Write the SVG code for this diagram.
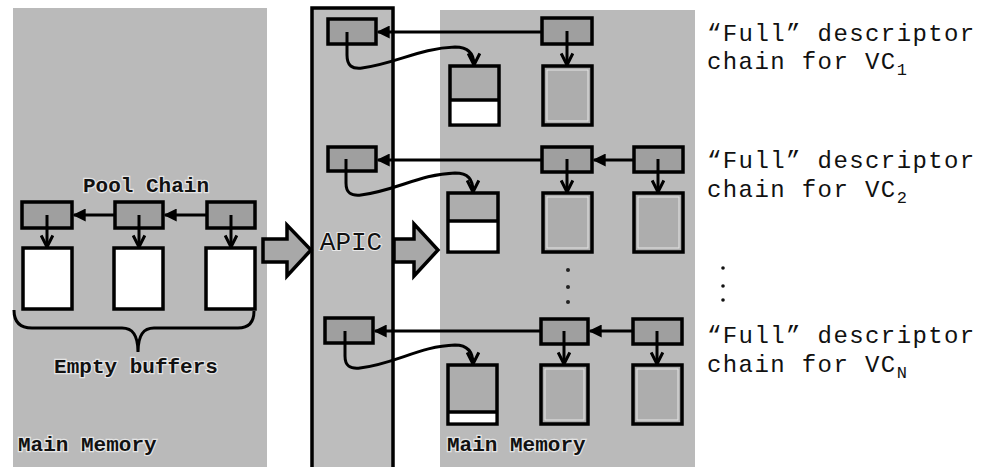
<svg xmlns="http://www.w3.org/2000/svg" width="982" height="467" viewBox="0 0 982 467">
<defs>
<style>
.panel{fill:#bababa;}
.desc{fill:#9f9f9f;stroke:#000;stroke-width:3.5;}
.buf{fill:#fff;stroke:#000;stroke-width:3.5;}
.full{fill:#adadad;stroke:#000;stroke-width:3.5;}
.inner{fill:none;stroke:#e6e6e6;stroke-width:1;}
.ln{fill:none;stroke:#000;stroke-width:3;}
.big{fill:#a8a8a8;stroke:#000;stroke-width:3.5;stroke-linejoin:miter;}
.lbl{font-family:"Liberation Mono","Courier New",monospace;font-weight:bold;font-size:21px;fill:#111;stroke:#e4e4e4;stroke-width:2.5;paint-order:stroke;}
.cap{font-family:"Liberation Mono","Courier New",monospace;font-size:24px;letter-spacing:1.4px;fill:#111;}
.sub{font-size:17px;}
</style>
<marker id="tri" viewBox="0 0 10 10" refX="9" refY="5" markerWidth="13" markerHeight="13" orient="auto" markerUnits="userSpaceOnUse">
<path d="M0,0 L10,5 L0,10 Z" fill="#000"/>
</marker>
<marker id="chev" viewBox="0 0 12 12" refX="11" refY="6" markerWidth="14" markerHeight="14" orient="auto" markerUnits="userSpaceOnUse">
<path d="M1,1 L11,6 L1,11" fill="none" stroke="#000" stroke-width="2.6"/>
</marker>
</defs>
<rect width="982" height="467" fill="#fff"/>

<g id="left-memory">
<rect class="panel" x="13" y="8" width="254" height="470"/>
<text class="lbl" x="146" y="192" text-anchor="middle">Pool Chain</text>
<text class="lbl" x="136" y="373" text-anchor="middle">Empty buffers</text>
<text class="lbl" x="18" y="451">Main Memory</text>
<path class="ln" d="M14,310 C14,322 20,328 32,328 L122,328 C132,328 138,334 138,352 C138,334 144,328 154,328 L238,328 C249,328 254,322 254,311"/>
</g>

<g id="pool-desc-1"><rect class="desc" x="22" y="202" width="50" height="26"/></g>
<g id="pool-desc-2"><rect class="desc" x="115" y="202" width="48" height="26"/></g>
<g id="pool-desc-3"><rect class="desc" x="207" y="202" width="48" height="26"/></g>
<g id="pool-buf-1"><rect class="buf" x="23" y="248" width="49" height="61"/></g>
<g id="pool-buf-2"><rect class="buf" x="114" y="248" width="49" height="61"/></g>
<g id="pool-buf-3"><rect class="buf" x="206" y="248" width="49" height="61"/></g>

<g id="apic">
<rect x="312" y="8" width="81" height="470" fill="#bdbdbd" stroke="#000" stroke-width="3.5"/>
<text x="351" y="250" text-anchor="middle" font-family="'Liberation Mono','Courier New',monospace" font-size="26" fill="#111" stroke="#e8e8e8" stroke-width="2" paint-order="stroke">APIC</text>
</g>

<g id="right-memory">
<rect class="panel" x="440" y="10" width="255" height="470"/>
<text class="lbl" x="447" y="451">Main Memory</text>
<circle cx="568" cy="270" r="2" fill="#222"/>
<circle cx="568" cy="287" r="2" fill="#222"/>
<circle cx="568" cy="302" r="2" fill="#222"/>
</g>

<g id="big-arrow-1"><path class="big" d="M263,239 L287,239 L287,225 L311,250 L287,276 L287,262 L263,262 Z"/></g>
<g id="big-arrow-2"><path class="big" d="M394,239 L414,239 L414,224 L438,250 L414,276 L414,262 L394,262 Z"/></g>

<g id="apic-desc-1"><rect class="desc" x="328" y="19" width="48" height="25"/></g>
<g id="apic-desc-2"><rect class="desc" x="328" y="147" width="48" height="24"/></g>
<g id="apic-desc-N"><rect class="desc" x="325" y="318" width="48" height="25"/></g>

<g id="vc1-desc-1"><rect class="desc" x="542" y="18" width="50" height="26"/></g>
<g id="vc1-buf-partial"><rect class="full" x="450" y="66" width="49" height="59"/><rect x="451.75" y="101" width="45.5" height="22.25" fill="#fff"/><line x1="450" y1="100" x2="499" y2="100" stroke="#000" stroke-width="3.5"/></g>
<g id="vc1-buf-1"><rect class="full" x="543" y="66" width="49" height="59"/><rect class="inner" x="547" y="70" width="41" height="51"/></g>

<g id="vc2-desc-1"><rect class="desc" x="542" y="147" width="50" height="25"/></g>
<g id="vc2-desc-2"><rect class="desc" x="634" y="147" width="49" height="25"/></g>
<g id="vc2-buf-partial"><rect class="full" x="448" y="193" width="50" height="59"/><rect x="449.75" y="222" width="46.5" height="28.25" fill="#fff"/><line x1="448" y1="221" x2="498" y2="221" stroke="#000" stroke-width="3.5"/></g>
<g id="vc2-buf-1"><rect class="full" x="543" y="193" width="49" height="59"/><rect class="inner" x="547" y="197" width="41" height="51"/></g>
<g id="vc2-buf-2"><rect class="full" x="634" y="193" width="49" height="59"/><rect class="inner" x="638" y="197" width="41" height="51"/></g>

<g id="vcN-desc-1"><rect class="desc" x="541" y="319" width="47" height="25"/></g>
<g id="vcN-desc-2"><rect class="desc" x="633" y="319" width="49" height="25"/></g>
<g id="vcN-buf-partial"><rect class="full" x="448" y="365" width="49" height="59"/><rect x="449.75" y="413" width="45.5" height="9.25" fill="#fff"/><line x1="448" y1="412" x2="497" y2="412" stroke="#000" stroke-width="3.5"/></g>
<g id="vcN-buf-1"><rect class="full" x="541" y="365" width="47" height="59"/><rect class="inner" x="545" y="369" width="39" height="51"/></g>
<g id="vcN-buf-2"><rect class="full" x="633" y="365" width="49" height="59"/><rect class="inner" x="637" y="369" width="41" height="51"/></g>

<g id="connectors">
<path class="ln" d="M207,215 L165,215" marker-end="url(#tri)"/>
<path class="ln" d="M115,215 L74,215" marker-end="url(#tri)"/>
<path class="ln" d="M47,215 L47,247" marker-end="url(#chev)"/>
<path class="ln" d="M139,215 L139,247" marker-end="url(#chev)"/>
<path class="ln" d="M231,215 L231,247" marker-end="url(#chev)"/>

<path class="ln" d="M542,32 L378,32" marker-end="url(#tri)"/>
<path class="ln" d="M567,31 L567,65" marker-end="url(#chev)"/>
<path class="ln" d="M347,32 L347,55 C347,66 352,69 362,68 C395,64 420,48 455,47 C468,47 474,53 474,65" marker-end="url(#chev)"/>

<path class="ln" d="M634,160 L594,160" marker-end="url(#tri)"/>
<path class="ln" d="M542,160 L378,160" marker-end="url(#tri)"/>
<path class="ln" d="M567,159 L567,192" marker-end="url(#chev)"/>
<path class="ln" d="M658,159 L658,192" marker-end="url(#chev)"/>
<path class="ln" d="M346,159 L346,183 C346,193 351,196 361,195 C395,191 420,174 455,173 C468,173 473,179 473,192" marker-end="url(#chev)"/>

<path class="ln" d="M633,331 L590,331" marker-end="url(#tri)"/>
<path class="ln" d="M541,331 L375,331" marker-end="url(#tri)"/>
<path class="ln" d="M564,331 L564,364" marker-end="url(#chev)"/>
<path class="ln" d="M657,331 L657,364" marker-end="url(#chev)"/>
<path class="ln" d="M345,331 L345,356 C345,366 350,369 360,368 C395,364 420,346 455,345 C467,345 473,351 473,364" marker-end="url(#chev)"/>
</g>

<g id="captions">
<text class="cap" x="707" y="41">“Full” descriptor<tspan x="707" y="69">chain for VC</tspan><tspan class="sub" dy="6">1</tspan></text>
<text class="cap" x="707" y="168">“Full” descriptor<tspan x="707" y="197">chain for VC</tspan><tspan class="sub" dy="6">2</tspan></text>
<circle cx="723" cy="268" r="1.8" fill="#111"/>
<circle cx="723" cy="286" r="1.8" fill="#111"/>
<circle cx="723" cy="300" r="1.8" fill="#111"/>
<text class="cap" x="707" y="343">“Full” descriptor<tspan x="707" y="372">chain for VC</tspan><tspan class="sub" dy="6">N</tspan></text>
</g>
</svg>
